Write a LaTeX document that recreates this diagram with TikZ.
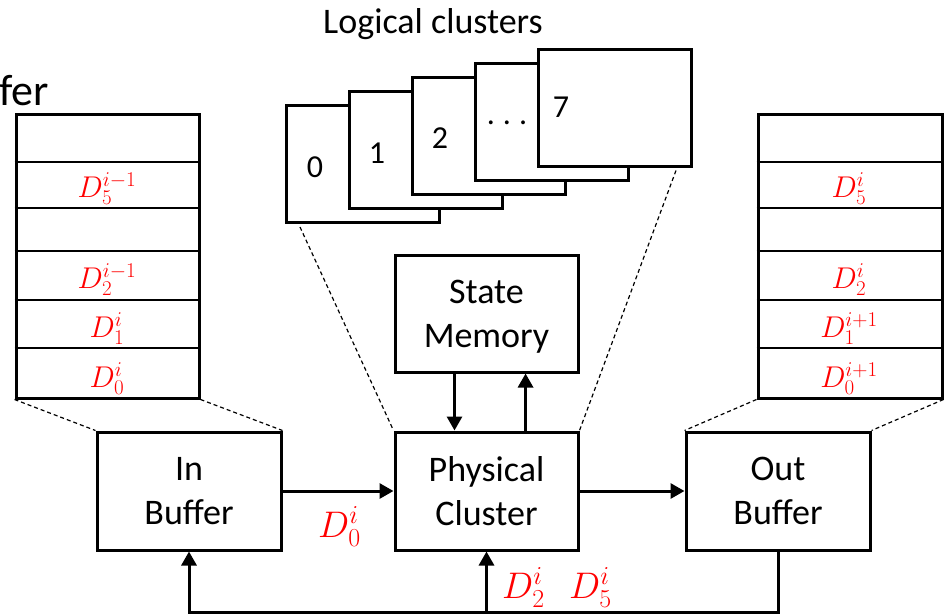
\documentclass[tikz,border=0pt]{standalone}
\usepackage{fix-cm}
\usepackage{fontspec}
\setmainfont{Carlito}
\usetikzlibrary{arrows.meta,calc}
\begin{document}
\begin{tikzpicture}[x=1pt,y=-1pt,
  box/.style={draw,line width=3pt,fill=white,align=center,inner sep=0pt,
    minimum width=184pt,minimum height=118pt,text depth=0pt,
    font=\fontsize{36}{44}\selectfont},
  lcbox/.style={draw,line width=3pt,fill=white,inner sep=0pt,anchor=north west,
    minimum width=153pt,minimum height=117pt},
  lclabel/.style={anchor=base,inner sep=0pt,font=\fontsize{32}{38}\selectfont},
  tablebox/.style={draw,line width=3pt,inner sep=0pt,minimum width=183pt,minimum height=284pt},
  rowline/.style={line width=1.5pt},
  cell/.style={anchor=base,inner sep=0pt,text=red,font=\fontsize{30}{36}\selectfont},
  flowlabel/.style={anchor=base west,inner sep=0pt,text=red,font=\fontsize{37}{44}\selectfont},
  guide/.style={line width=1.2pt,dash pattern=on 4pt off 3pt},
  arr/.style={line width=3pt,-{Triangle[length=14pt,width=15pt]}}
]
\useasboundingbox (0,0) rectangle (951,614);

% clipped heading at the top left
\node[anchor=base west,inner sep=0pt,font=\fontsize{44}{52}\selectfont] (clip) at (-1,105) {fer};

% logical clusters, stacked back to front
\node[anchor=base,inner sep=0pt,font=\fontsize{36}{44}\selectfont] (lctitle) at (433,33) {Logical clusters};
\node[lcbox] (lc0) at (285,104) {};
\node[lcbox] (lc1) at (348,90) {};
\node[lcbox] (lc2) at (411,76) {};
\node[lcbox] (lc3) at (474,62) {};
\node[lcbox] (lc4) at (537,47.5) {};
\node[lclabel] (n0) at (315,177) {0};
\node[lclabel] (n1) at (377,163) {1};
\node[lclabel] (n2) at (440,148) {2};
\node[lclabel] (ndots) at (507,124) {.\hspace{8pt}.\hspace{8pt}.};
\node[lclabel] (n7) at (561,117) {7};

% main blocks
\node[box] (inbuf) at (189,491) {In\\Buffer};
\node[box,minimum width=183pt] (phys) at (486.5,491) {Physical\\Cluster};
\node[box] (outbuf) at (778,491) {Out\\Buffer};
\node[box,minimum width=183pt,minimum height=117pt] (state) at (486.5,313.5) {State\\Memory};

% buffer contents
\node[tablebox] (ltab) at (107.5,256) {};
\node[tablebox,minimum width=184pt] (rtab) at (850,256) {};
\foreach \y in {162,208,251,300,348}{
  \draw[rowline] (ltab.west |- 0,\y) -- (ltab.east |- 0,\y);
  \draw[rowline] (rtab.west |- 0,\y) -- (rtab.east |- 0,\y);
}
\node[cell] (l5) at (107,197) {$D_5^{i-1}$};
\node[cell] (l2) at (107,288) {$D_2^{i-1}$};
\node[cell] (l1) at (107,337) {$D_1^{i}$};
\node[cell] (l0) at (107,387) {$D_0^{i}$};
\node[cell] (r5) at (849,197) {$D_5^{i}$};
\node[cell] (r2) at (849,288) {$D_2^{i}$};
\node[cell] (r1) at (849,337) {$D_1^{i+1}$};
\node[cell] (r0) at (849,387) {$D_0^{i+1}$};

% zoom guides
\draw[guide] (ltab.south west) -- (inbuf.north west);
\draw[guide] (ltab.south east) -- (inbuf.north east);
\draw[guide] ($(lc0.south west)+(15,3)$) -- (phys.north west);
\draw[guide] ($(lc4.south east)+(-17,3)$) -- (phys.north east);
\draw[guide] (rtab.south west) -- (outbuf.north west);
\draw[guide] (rtab.south east) -- (outbuf.north east);

% data flow
\draw[arr] (inbuf.east) -- (phys.west);
\draw[arr] (phys.east) -- (outbuf.west);
\draw[arr] ($(state.south west)!0.328!(state.south east)$) -- ($(phys.north west)!0.328!(phys.north east)$);
\draw[arr] ($(phys.north west)!0.71!(phys.north east)$) -- ($(state.south west)!0.71!(state.south east)$);
\coordinate (loop) at (486.5,612);
\draw[arr] (outbuf.south) |- (inbuf.south |- loop) -- (inbuf.south);
\draw[arr] (loop) -- (phys.south);

\node[flowlabel] (d0) at (318,537) {$D_0^{i}$};
\node[flowlabel] (d2) at (502,598) {$D_2^{i}$};
\node[flowlabel] (d5) at (569,598) {$D_5^{i}$};
\end{tikzpicture}
\end{document}
